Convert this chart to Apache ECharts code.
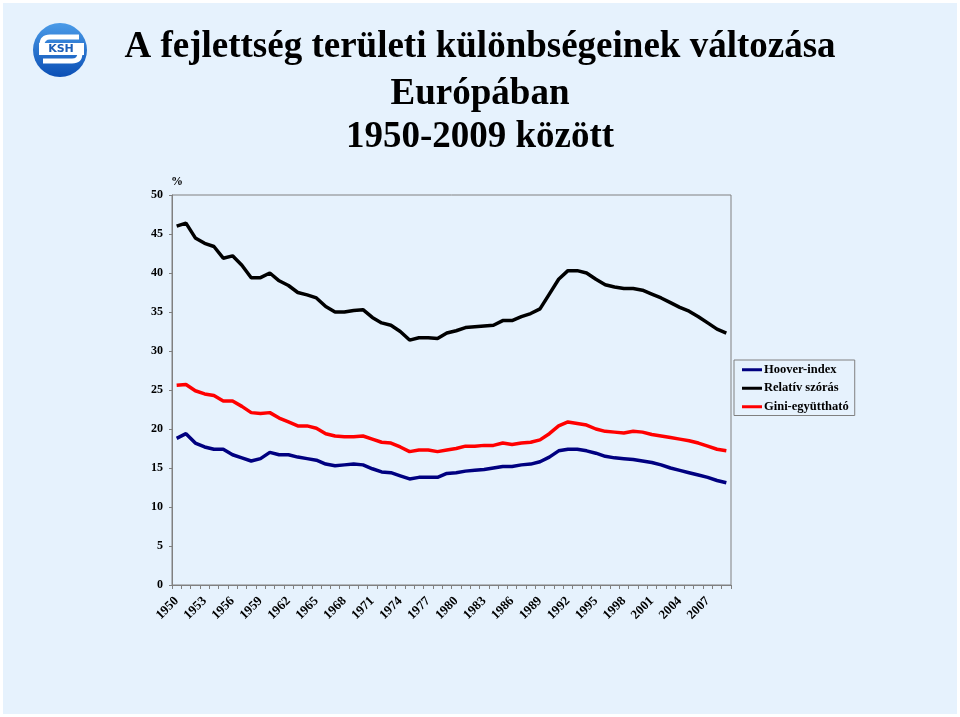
<!DOCTYPE html>
<html>
<head>
<meta charset="utf-8">
<script src="https://cdn.jsdelivr.net/npm/echarts@6/dist/echarts.min.js"></script>
<style>
html,body{margin:0;padding:0;background:#ffffff;}
#c{width:960px;height:717px;}
</style>
</head>
<body>
<div id="c"></div>
<script>
const years = [];
for (let y = 1950; y <= 2009; y++) years.push(String(y));

const seriesNames = ['Hoover-index', 'Relatív szórás', 'Gini-együttható'];

const hoover = [18.8,19.4,18.2,17.7,17.4,17.4,16.7,16.3,15.9,16.2,17.0,16.7,16.7,16.4,16.2,16.0,15.5,15.3,15.4,15.5,15.4,14.9,14.5,14.4,14.0,13.6,13.8,13.8,13.8,
14.3,14.4,14.6,14.7,14.8,15.0,15.2,15.2,15.4,15.5,15.8,16.4,17.2,17.4,17.4,17.2,16.9,16.5,16.3,16.2,16.1,15.9,15.7,15.4,15.0,14.7,14.4,14.1,13.8,13.4,13.1];

const relativ = [46.0,46.4,44.5,43.8,43.4,41.9,42.2,41.0,39.4,39.4,40.0,39.0,38.4,37.5,37.2,36.8,35.7,35.0,35.0,35.2,35.3,34.3,33.6,33.3,32.5,31.4,31.7,31.7,31.6,
32.3,32.6,33.0,33.1,33.2,33.3,33.9,33.9,34.4,34.8,35.4,37.3,39.2,40.3,40.3,40.0,39.2,38.5,38.2,38.0,38.0,37.8,37.3,36.8,36.2,35.6,35.1,34.4,33.6,32.8,32.3];

const gini = [25.6,25.7,24.9,24.5,24.3,23.6,23.6,22.9,22.1,22.0,22.1,21.4,20.9,20.4,20.4,20.1,19.4,19.1,19.0,19.0,19.1,18.7,18.3,18.2,17.7,17.1,17.3,17.3,17.1,
17.3,17.5,17.8,17.8,17.9,17.9,18.2,18.0,18.2,18.3,18.6,19.4,20.4,20.9,20.7,20.5,20.0,19.7,19.6,19.5,19.7,19.6,19.3,19.1,18.9,18.7,18.5,18.2,17.8,17.4,17.2];

const titleLines = ['A fejlettség területi különbségeinek változása', 'Európában', '1950-2009 között'];
const yUnit = '%';

const serif = '"Liberation Serif", "DejaVu Serif", serif';
const bg = '#e6f2fd';

const chart = echarts.init(document.getElementById('c'), null, {renderer: 'canvas'});

const titleFont = 'bold 37px ' + serif;

const graphics = [
  {type: 'rect', shape: {x: 1.5, y: 1.5, width: 957, height: 714}, style: {fill: 'none', stroke: '#ffffff', lineWidth: 3}, z: 100},
  // logo
  {type: 'circle', shape: {cx: 60, cy: 50, r: 27}, style: {
    fill: new echarts.graphic.LinearGradient(0, 0, 0, 1, [{offset: 0, color: '#4a9be8'}, {offset: 1, color: '#0b4fb5'}])
  }},
  {type: 'line', shape: {x1: 79, y1: 37, x2: 50, y2: 37}, style: {stroke: '#ffffff', lineWidth: 5}},
  {type: 'bezierCurve', shape: {x1: 50, y1: 37, cpx1: 42, cpy1: 37, x2: 42, y2: 45}, style: {fill: 'none', stroke: '#ffffff', lineWidth: 5}},
  {type: 'bezierCurve', shape: {x1: 80, y1: 53, cpx1: 80, cpy1: 61, x2: 72, y2: 61}, style: {fill: 'none', stroke: '#ffffff', lineWidth: 5}},
  {type: 'line', shape: {x1: 72, y1: 61, x2: 43, y2: 61}, style: {stroke: '#ffffff', lineWidth: 5}},
  {type: 'rect', shape: {x: 39, y: 43, width: 45, height: 12}, style: {fill: '#ffffff'}},
  {type: 'text', x: 61, y: 49.5, style: {text: 'KSH', fill: '#1d5fb8', font: 'bold 11px "DejaVu Sans", sans-serif', textAlign: 'center', textVerticalAlign: 'middle'}},
  // title
  {type: 'text', x: 480, y: 47, style: {text: titleLines[0], fill: '#000000', font: titleFont, textAlign: 'center', textVerticalAlign: 'middle'}},
  {type: 'text', x: 480, y: 94, style: {text: titleLines[1], fill: '#000000', font: titleFont, textAlign: 'center', textVerticalAlign: 'middle'}},
  {type: 'text', x: 480, y: 137, style: {text: titleLines[2], fill: '#000000', font: titleFont, textAlign: 'center', textVerticalAlign: 'middle'}},
  {type: 'text', x: 171, y: 182, style: {text: yUnit, fill: '#000000', font: 'bold 12px ' + serif, textAlign: 'left', textVerticalAlign: 'middle'}}
];

const option = {
  animation: false,
  backgroundColor: bg,
  graphic: graphics,
  grid: {left: 172, right: 229, top: 195, bottom: 132, show: true, borderColor: '#808080', borderWidth: 1, backgroundColor: 'transparent'},
  legend: {
    orient: 'vertical',
    left: 734, top: 360,
    data: seriesNames,
    icon: 'rect',
    itemWidth: 20, itemHeight: 3, itemGap: 5,
    padding: [3, 6, 2, 8],
    borderColor: '#808080', borderWidth: 1, borderRadius: 0,
    backgroundColor: bg,
    textStyle: {fontFamily: serif, fontWeight: 'bold', fontSize: 12.5, lineHeight: 13.5, color: '#000000', padding: [0, 0, 0, -3]}
  },
  xAxis: {
    type: 'category',
    data: years,
    boundaryGap: true,
    axisLine: {lineStyle: {color: '#808080', width: 1}},
    axisTick: {show: true, interval: 0, length: 4, lineStyle: {color: '#808080'}},
    axisLabel: {interval: 2, rotate: 45, margin: 14, fontFamily: serif, fontWeight: 'bold', fontSize: 13, color: '#000000'},
    splitLine: {show: false}
  },
  yAxis: {
    type: 'value',
    min: 0, max: 50, interval: 5,
    axisLine: {show: true, lineStyle: {color: '#808080', width: 1}},
    axisTick: {show: true, length: 3, lineStyle: {color: '#808080'}},
    axisLabel: {margin: 9, fontFamily: serif, fontWeight: 'bold', fontSize: 12, color: '#000000'},
    splitLine: {show: false}
  },
  series: [
    {name: seriesNames[0], type: 'line', data: hoover, symbol: 'none', lineStyle: {color: '#000080', width: 3.5}, itemStyle: {color: '#000080'}},
    {name: seriesNames[1], type: 'line', data: relativ, symbol: 'none', lineStyle: {color: '#000000', width: 3.5}, itemStyle: {color: '#000000'}},
    {name: seriesNames[2], type: 'line', data: gini, symbol: 'none', lineStyle: {color: '#ff0000', width: 3.5}, itemStyle: {color: '#ff0000'}}
  ]
};
chart.setOption(option);
</script>
</body>
</html>
